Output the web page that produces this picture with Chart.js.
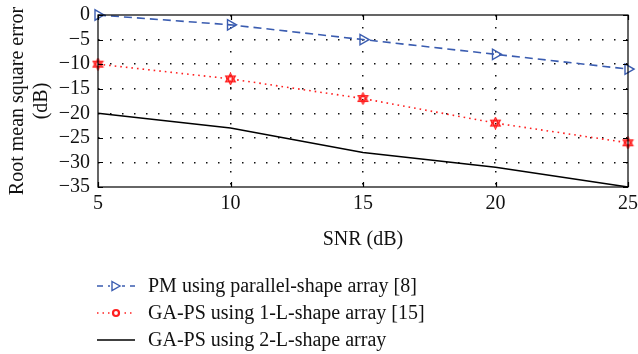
<!DOCTYPE html>
<html>
<head>
<meta charset="utf-8">
<script src="https://cdn.jsdelivr.net/npm/chart.js@4/dist/chart.umd.min.js"></script>
<style>
html,body{margin:0;padding:0;background:#fff;}
#wrap{position:relative;width:638px;height:354px;}
#c{position:absolute;left:0;top:0;}
#legend{position:absolute;left:96px;top:272px;font-family:"Liberation Serif",serif;font-size:20px;color:#111;}
.row{height:27px;display:flex;align-items:center;}
.row svg{margin-right:12px;}
</style>
</head>
<body>
<div id="wrap">
<canvas id="c" width="638" height="354"></canvas>
<div id="legend"></div>
</div>
<script>
const snr = [5, 10, 15, 20, 25];
const pmParallel = [0, -2, -5, -8, -11];
const gaPs1L = [-10, -13, -17, -22, -26];
const gaPs2L = [-20, -23, -28, -31, -35];
const xTicks = [5, 10, 15, 20, 25];
const yTicks = [0, -5, -10, -15, -20, -25, -30, -35];
const seriesNames = ['PM using parallel-shape array [8]', 'GA-PS using 1-L-shape array [15]', 'GA-PS using 2-L-shape array'];

const BLUE = '#3a5cb0';
const RED = '#ff2020';

function hexagram(size, lw) {
  const cv = document.createElement('canvas');
  cv.width = size; cv.height = size;
  const g = cv.getContext('2d');
  const c = size / 2, r = size / 2 - 1;
  g.strokeStyle = RED; g.lineWidth = lw;
  for (const off of [-90, 90]) {
    g.beginPath();
    for (let i = 0; i < 3; i++) {
      const a = (off + i * 120) * Math.PI / 180;
      const x = c + r * Math.cos(a), y = c + r * Math.sin(a);
      if (i === 0) g.moveTo(x, y); else g.lineTo(x, y);
    }
    g.closePath(); g.stroke();
  }
  g.strokeRect(c - r * 0.35, c - r * 0.35, r * 0.7, r * 0.7);
  return cv;
}
const star = hexagram(13, 1.3);

const FONT = {family: '"Liberation Serif", serif', size: 20};

const innerTicks = {
  id: 'innerTicks',
  afterDraw(chart) {
    const {ctx, chartArea: a, scales: {x, y}} = chart;
    ctx.save();
    ctx.strokeStyle = '#000';
    ctx.lineWidth = 1.2;
    ctx.strokeRect(a.left, a.top, a.right - a.left, a.bottom - a.top);
    const L = 5;
    ctx.beginPath();
    xTicks.forEach(v => {
      const px = Math.round(x.getPixelForValue(v)) + 0.5;
      ctx.moveTo(px, a.bottom); ctx.lineTo(px, a.bottom - L);
      ctx.moveTo(px, a.top); ctx.lineTo(px, a.top + L);
    });
    yTicks.forEach(v => {
      const py = Math.round(y.getPixelForValue(v)) + 0.5;
      ctx.moveTo(a.left, py); ctx.lineTo(a.left + L, py);
      ctx.moveTo(a.right, py); ctx.lineTo(a.right - L, py);
    });
    ctx.stroke();
    ctx.restore();
  }
};

const edgeTransparent = (lo, hi) => (c) => (c.tick && (c.tick.value === lo || c.tick.value === hi)) ? 'rgba(0,0,0,0)' : '#111';

new Chart(document.getElementById('c'), {
  type: 'line',
  data: {
    labels: snr,
    datasets: [
      {label: seriesNames[0], data: snr.map((v, i) => ({x: v, y: pmParallel[i]})), borderColor: BLUE, backgroundColor: 'rgba(0,0,0,0)', borderWidth: 1.6, borderDash: [8, 5], pointStyle: 'triangle', pointRotation: 90, pointRadius: 6, pointBorderWidth: 1.4, pointBorderColor: BLUE, pointBackgroundColor: 'rgba(0,0,0,0)', clip: false, tension: 0},
      {label: seriesNames[1], data: snr.map((v, i) => ({x: v, y: gaPs1L[i]})), borderColor: RED, backgroundColor: 'rgba(0,0,0,0)', borderWidth: 1.6, borderDash: [1.6, 4], pointStyle: star, clip: false, tension: 0},
      {label: seriesNames[2], data: snr.map((v, i) => ({x: v, y: gaPs2L[i]})), borderColor: '#000', backgroundColor: 'rgba(0,0,0,0)', borderWidth: 1.5, pointRadius: 0, clip: false, tension: 0}
    ]
  },
  options: {
    responsive: false,
    animation: false,
    layout: {padding: {top: 15, right: 0, bottom: 102, left: 0}},
    plugins: {legend: {display: false}, tooltip: {enabled: false}},
    scales: {
      x: {
        type: 'linear', min: 5, max: 25,
        afterBuildTicks: s => { s.ticks = xTicks.map(v => ({value: v})); },
        afterFit: s => { s.height = 65; s.paddingRight = 10; s.paddingLeft = 0; },
        grid: {color: edgeTransparent(5, 25), drawTicks: false, lineWidth: 1.5},
        border: {display: false, dash: [1.5, 10.5]},
        ticks: {font: FONT, color: '#111', padding: 5, maxRotation: 0, autoSkip: false},
        title: {display: true, text: 'SNR (dB)', font: FONT, color: '#111', padding: {top: 0, bottom: 0}}
      },
      y: {
        type: 'linear', min: -35, max: 0,
        afterBuildTicks: s => { s.ticks = yTicks.map(v => ({value: v})); },
        afterFit: s => { s.width = 98; s.paddingTop = 0; s.paddingBottom = 0; },
        grid: {color: edgeTransparent(0, -35), drawTicks: false, lineWidth: 1.5},
        border: {display: false, dash: [1.5, 10.5]},
        ticks: {font: FONT, color: '#111', padding: 8, autoSkip: false, callback: v => v < 0 ? '\u2212' + Math.abs(v) : String(v)},
        title: {display: true, text: ['Root mean square error', '(dB)'], font: FONT, color: '#111', padding: {top: 6, bottom: 0}}
      }
    }
  },
  plugins: [innerTicks]
});

// legend
const leg = document.getElementById('legend');
const samples = [
  `<svg width="40" height="14"><line x1="1" y1="7" x2="39" y2="7" stroke="${BLUE}" stroke-width="1.6" stroke-dasharray="6 5"/><rect x="14" y="1" width="12" height="12" fill="#fff"/><polygon points="16,2.5 24,7 16,11.5" fill="none" stroke="${BLUE}" stroke-width="1.4"/></svg>`,
  `<svg width="40" height="14"><line x1="1" y1="7" x2="39" y2="7" stroke="${RED}" stroke-width="1.6" stroke-dasharray="1.5 4"/><rect x="15" y="1" width="10" height="12" fill="#fff"/><circle cx="20" cy="7" r="3" fill="none" stroke="${RED}" stroke-width="2.2"/></svg>`,
  `<svg width="40" height="14"><line x1="1" y1="7" x2="39" y2="7" stroke="#000" stroke-width="1.6"/></svg>`
];
seriesNames.forEach((n, i) => {
  const d = document.createElement('div');
  d.className = 'row';
  d.innerHTML = samples[i];
  const s = document.createElement('span');
  s.textContent = n;
  d.appendChild(s);
  leg.appendChild(d);
});
</script>
</body>
</html>
